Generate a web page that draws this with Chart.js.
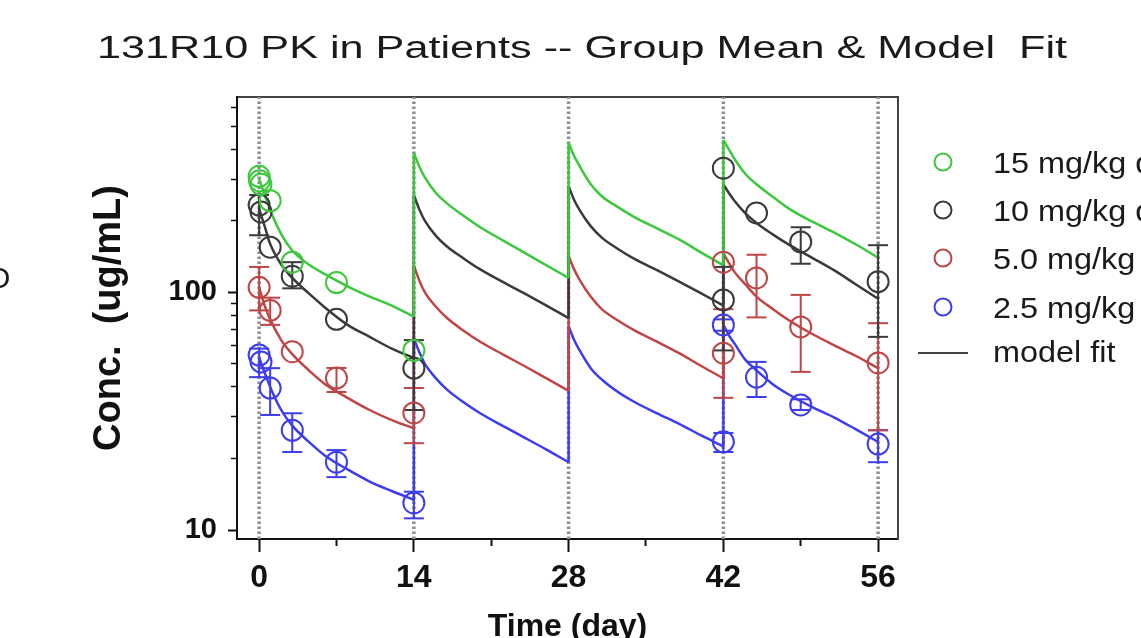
<!DOCTYPE html>
<html>
<head>
<meta charset="utf-8">
<title>131R10 PK in Patients</title>
<script src="https://cdn.jsdelivr.net/npm/chart.js@4.4.1/dist/chart.umd.min.js"></script>
<style>
  html, body { margin: 0; padding: 0; background: #fff; }
  #wrap { width: 1141px; height: 638px; position: relative; }
</style>
</head>
<body>
<div id="wrap"><canvas id="pkChart"></canvas></div>
<script>
// 131R10 PK -- group means (circles, error bars) and model fit lines
const chartTitle = '131R10 PK in Patients -- Group Mean & Model  Fit';
const groupLabels = ['15 mg/kg q2w', '10 mg/kg q2w', '5.0 mg/kg q2w', '2.5 mg/kg q2w'];
const groupColors = ['#3cc83c', '#3a3a3a', '#c04545', '#3c3cf0'];
const fitLabel = 'model fit';
const fitColor = '#444444';

const doseTimes = [0, 14, 28, 42, 56];
const xTickMajor = [0, 14, 28, 42, 56];
const xTickMinor = [7, 21, 35, 49];
const yTickMajor = [10, 100];
const yTickMinor = [20, 30, 40, 50, 60, 70, 80, 90, 200, 300, 400, 500, 600];
const xMin = -2, xMax = 57.8;
const yMin = 9.17, yMax = 664;

// observed group means (ug/mL) with error bar ends
const obs15Time = [0, 0.04, 0.17, 1, 3, 7, 14];
const obs15Conc = [308, 295, 285, 243, 134, 110, 57];
const obs15Lo = [null, null, null, null, null, null, null];
const obs15Hi = [null, null, null, null, null, null, null];

const obs10Time = [0, 0.17, 1, 3, 7, 14, 42, 42, 45, 49, 56];
const obs10Conc = [233, 218, 155, 117, 77, 48, 333, 93, 216, 163, 111];
const obs10Lo = [174, null, null, 104, null, 32, null, 57, null, 132, 65];
const obs10Hi = [257, null, null, 134, null, 63, null, 128, null, 188, 158];

const obs5Time = [0, 1, 3, 7, 14, 42, 42, 45, 49, 56];
const obs5Conc = [105, 84, 56.3, 43.6, 31.1, 134, 55.5, 115, 71.6, 50.5];
const obs5Lo = [84, 73, null, 38.1, 23.2, null, 36, 78.5, 46.3, 26.3];
const obs5Hi = [128, 95, null, 48.1, 39.6, null, 85, 144, 97.6, 74.2];

const obs2Time = [0, 0.17, 1, 3, 7, 14, 42, 42, 45, 49, 56];
const obs2Conc = [54.5, 51, 39.6, 26.3, 19.3, 13, 73, 23.5, 44, 33.6, 23];
const obs2Lo = [44, null, 30.5, 21.3, 16.7, 11.2, 69, 21.3, 36.3, 32, 19.3];
const obs2Hi = [58, null, 48, 31, 21.7, 14.5, 77, 25.6, 51, 35.5, 26.3];

// model fit curves (two values at each dose time)
const fitTime = [0, 0.5, 1, 2, 3, 4.5, 6, 8, 10, 12, 14,
                 14, 14.5, 15, 16, 17, 18.5, 20, 22, 24, 26, 28,
                 28, 28.5, 29, 30, 31, 32.5, 34, 36, 38, 40, 42,
                 42, 42.5, 43, 44, 45, 46.5, 48, 50, 52, 54, 56];
const fit15 = [300, 258, 222, 176, 150, 131, 119, 106, 96, 88, 79,
               386, 338, 305, 262, 237, 210, 188, 166, 147, 130, 115,
               425, 375, 340, 285, 254, 228, 207, 186, 167, 147, 130,
               438, 400, 365, 315, 285, 252, 224, 199, 179, 159, 140];
const fit10 = [225, 190, 160, 131, 115, 99, 86, 73, 65, 58, 53,
               257, 223, 200, 173, 156, 139, 125, 111, 99, 88, 78,
               280, 245, 222, 190, 170, 152, 138, 124, 111, 99, 88,
               285, 262, 243, 215, 196, 175, 158, 140, 124, 108, 94];
const fit5 = [105, 88, 77, 63, 55, 47, 41, 36, 32, 29, 26.8,
              130, 112, 100, 87, 78, 69, 62, 55, 49, 43.5, 38.5,
              142, 125, 113, 96, 85, 76, 69, 62, 55.5, 49, 43.5,
              146, 133, 122, 108, 96, 85, 76, 67, 60, 54, 48];
const fit2 = [53, 46, 40, 32, 27.5, 23.5, 20.5, 18, 16, 14.6, 13.4,
              64, 56, 50, 43.5, 39, 34.5, 31, 27.5, 24.5, 21.8, 19.3,
              72, 63, 57, 48, 43, 38, 34.5, 31, 28, 25, 22.5,
              73, 66, 61, 52, 47, 41, 37, 33, 29.8, 26.5, 23.5];

const groups = [
    { time: obs15Time, conc: obs15Conc, lo: obs15Lo, hi: obs15Hi, fit: fit15 },
    { time: obs10Time, conc: obs10Conc, lo: obs10Lo, hi: obs10Hi, fit: fit10 },
    { time: obs5Time, conc: obs5Conc, lo: obs5Lo, hi: obs5Hi, fit: fit5 },
    { time: obs2Time, conc: obs2Conc, lo: obs2Lo, hi: obs2Hi, fit: fit2 }
];

const FONT = "'Liberation Sans', Arial, Helvetica, sans-serif";
Chart.defaults.font.family = FONT;
Chart.defaults.color = '#111';

function toPoints(xs, ys) {
    return xs.map((x, i) => ({ x: x, y: ys[i] }));
}

function errorBarPoints(times, lo, hi) {
    const pts = [];
    times.forEach((t, i) => {
        if (lo[i] == null) return;
        pts.push({ x: t, y: lo[i] }, { x: t, y: hi[i] }, { x: t, y: null });
    });
    return pts;
}

// split a fit curve into dosing intervals (a repeated time starts a new one)
function splitIntervals(times, values) {
    const runs = [[]];
    const jumps = [];
    times.forEach((t, i) => {
        if (i > 0 && t === times[i - 1]) {
            runs.push([]);
            jumps.push({ x: t, y: values[i - 1] }, { x: t, y: values[i] }, { x: t, y: null });
        }
        runs[runs.length - 1].push({ x: t, y: values[i] });
    });
    return { runs, jumps };
}

const datasets = [];

// dosing times: dotted vertical lines across the whole plot
datasets.push({
    label: 'dose',
    data: doseTimes.flatMap(t => [{ x: t, y: yMin }, { x: t, y: yMax }, { x: t, y: null }]),
    showLine: true,
    borderColor: '#8f8f8f',
    borderWidth: 3.5,
    borderDash: [2.5, 2.5],
    pointRadius: 0,
    order: 10
});

groups.forEach((g, i) => {
    const color = groupColors[i];
    const parts = splitIntervals(fitTime, g.fit);
    parts.runs.forEach(run => {
        datasets.push({
            label: groupLabels[i] + ' fit',
            data: run,
            showLine: true,
            cubicInterpolationMode: 'monotone',
            borderColor: color,
            borderWidth: 2.5,
            pointRadius: 0,
            order: 5
        });
    });
    datasets.push({
        label: groupLabels[i] + ' dose jump',
        data: parts.jumps,
        showLine: true,
        borderColor: color,
        borderWidth: 2.5,
        pointRadius: 0,
        order: 5
    });
    datasets.push({
        label: groupLabels[i] + ' sd',
        data: errorBarPoints(g.time, g.lo, g.hi),
        showLine: true,
        borderColor: color,
        borderWidth: 2,
        pointStyle: 'line',
        pointRadius: 10,
        pointBorderWidth: 2,
        pointBorderColor: color,
        order: 3
    });
    datasets.push({
        label: groupLabels[i],
        data: toPoints(g.time, g.conc),
        showLine: false,
        pointStyle: 'circle',
        pointRadius: 10.5,
        pointBorderWidth: 2,
        pointBorderColor: color,
        pointBackgroundColor: 'rgba(0,0,0,0)',
        order: 1
    });
});

// title, legend and the cut-off glyph at the left edge
const decorPlugin = {
    id: 'decor',
    afterDraw(chart) {
        const ctx = chart.ctx;

        ctx.save();
        ctx.font = '31px ' + FONT;
        ctx.fillStyle = '#1a1a1a';
        ctx.textAlign = 'center';
        ctx.textBaseline = 'alphabetic';
        const tw = ctx.measureText(chartTitle).width;
        ctx.translate(582, 58);
        ctx.scale(970 / tw, 1);
        ctx.fillText(chartTitle, 0, 0);
        ctx.restore();

        ctx.save();
        ctx.font = '30px ' + FONT;
        ctx.fillStyle = '#1a1a1a';
        ctx.textBaseline = 'alphabetic';
        const rows = [162, 210, 258, 307];
        groupLabels.forEach((label, i) => {
            ctx.beginPath();
            ctx.arc(943, rows[i], 8.5, 0, Math.PI * 2);
            ctx.lineWidth = 2;
            ctx.strokeStyle = groupColors[i];
            ctx.stroke();
            ctx.save();
            ctx.translate(993, rows[i] + 11);
            ctx.scale(1.08, 1);
            ctx.fillText(label, 0, 0);
            ctx.restore();
        });
        ctx.beginPath();
        ctx.moveTo(918, 353);
        ctx.lineTo(968, 353);
        ctx.lineWidth = 2;
        ctx.strokeStyle = fitColor;
        ctx.stroke();
        ctx.save();
        ctx.translate(993, 362);
        ctx.scale(1.08, 1);
        ctx.fillText(fitLabel, 0, 0);
        ctx.restore();

        ctx.font = '30px ' + FONT;
        ctx.fillText('O', -13, 288);
        ctx.restore();
    }
};

new Chart(document.getElementById('pkChart'), {
    type: 'scatter',
    data: { datasets: datasets },
    plugins: [decorPlugin],
    options: {
        responsive: true,
        maintainAspectRatio: false,
        animation: false,
        layout: { padding: { left: 24, top: 97, right: 0, bottom: 0 } },
        plugins: {
            legend: { display: false },
            tooltip: { enabled: false },
            title: { display: false }
        },
        scales: {
            x: {
                type: 'linear',
                position: 'bottom',
                min: xMin,
                max: xMax,
                weight: 1,
                afterBuildTicks: axis => { axis.ticks = xTickMajor.map(v => ({ value: v })); },
                afterFit: axis => { axis.height = 99; },
                ticks: {
                    autoSkip: false,
                    maxRotation: 0,
                    padding: 7,
                    font: { size: 32, weight: 'bold' },
                    callback: v => String(v)
                },
                grid: { drawOnChartArea: false, tickLength: 13, tickWidth: 2, tickColor: '#111' },
                border: { color: '#111', width: 2 },
                title: {
                    display: true,
                    text: 'Time (day)',
                    font: { size: 32, weight: 'bold', lineHeight: 0.8 },
                    padding: { top: 0, bottom: -2 }
                }
            },
            xMinor: {
                type: 'linear',
                position: 'bottom',
                min: xMin,
                max: xMax,
                weight: 0,
                afterBuildTicks: axis => { axis.ticks = xTickMinor.map(v => ({ value: v })); },
                afterFit: axis => { axis.height = 0; },
                ticks: { display: false },
                grid: { drawOnChartArea: false, tickLength: 7, tickWidth: 2, tickColor: '#111' },
                border: { display: false }
            },
            xTop: {
                type: 'linear',
                position: 'top',
                min: xMin,
                max: xMax,
                afterFit: axis => { axis.height = 0; },
                ticks: { display: false },
                grid: { display: false },
                border: { color: '#444', width: 2 }
            },
            y: {
                type: 'logarithmic',
                position: 'left',
                min: yMin,
                max: yMax,
                weight: 1,
                afterBuildTicks: axis => { axis.ticks = yTickMajor.map(v => ({ value: v })); },
                afterFit: axis => { axis.width = 213; },
                ticks: {
                    autoSkip: false,
                    padding: 11,
                    font: { size: 29, weight: 'bold' },
                    callback: v => String(v)
                },
                grid: { drawOnChartArea: false, tickLength: 9, tickWidth: 2, tickColor: '#111' },
                border: { color: '#111', width: 2 },
                title: {
                    display: true,
                    text: 'Conc.  (ug/mL)',
                    font: { size: 38, weight: 'bold' },
                    padding: { top: 63, bottom: 0 }
                }
            },
            yMinor: {
                type: 'logarithmic',
                position: 'left',
                min: yMin,
                max: yMax,
                weight: 0,
                afterBuildTicks: axis => { axis.ticks = yTickMinor.map(v => ({ value: v })); },
                afterFit: axis => { axis.width = 0; },
                ticks: { display: false },
                grid: { drawOnChartArea: false, tickLength: 6, tickWidth: 1.5, tickColor: '#111' },
                border: { display: false }
            },
            yRight: {
                type: 'linear',
                position: 'right',
                min: 0,
                max: 1,
                afterFit: axis => { axis.width = 243; },
                ticks: { display: false },
                grid: { display: false },
                border: { color: '#444', width: 2 }
            }
        }
    }
});
</script>
</body>
</html>
